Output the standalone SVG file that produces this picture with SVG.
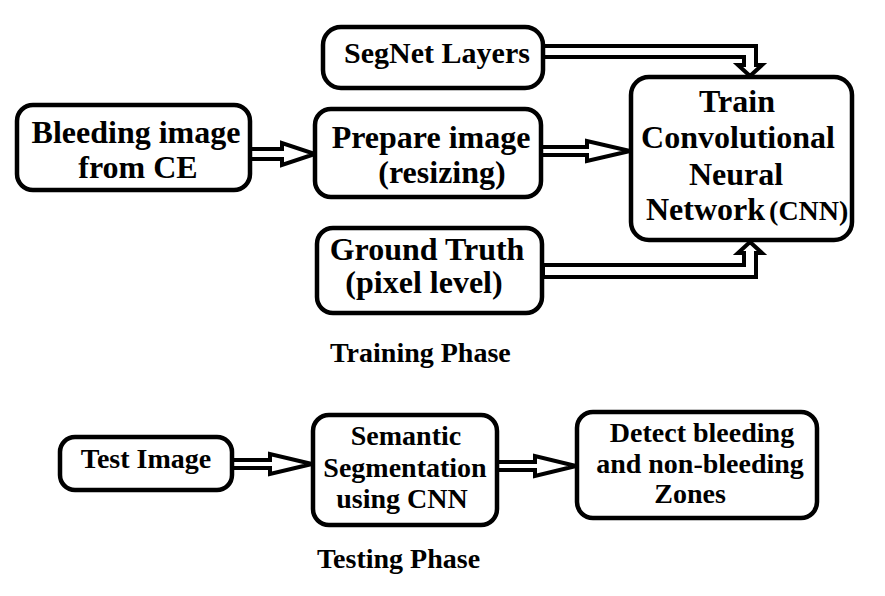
<svg xmlns="http://www.w3.org/2000/svg" width="885" height="596" viewBox="0 0 885 596">
<style>
.box{fill:#fff;stroke:#000;stroke-width:4.5}
.arr{fill:#fff;stroke:#000;stroke-width:4;stroke-linejoin:miter}
text{font-family:'Liberation Serif','Tinos','Times New Roman','Nimbus Roman','DejaVu Serif',serif;font-weight:700;fill:#000}
.t32{font-size:32px}
.t30{font-size:30px}
.t28{font-size:28px}
.m{text-anchor:middle}
</style>
<rect width="885" height="596" fill="#fff"/>
<g id="connectors">
<path class="arr" d="M250,149 H282 V143 L315,154 L282,165 V159 H250 Z"/>
<path class="arr" d="M541,147 H587 V141 L630,151 L587,161 V155 H541 Z"/>
<path class="arr" d="M543,46 H756 V65 H762 L750,76 L738,65 H744 V57 H543 Z"/>
<path class="arr" d="M543,265 H744 V253 H738 L750,242 L762,253 H756 V277 H543 Z"/>
<path class="arr" d="M232,460 H270 V454 L312,464 L270,474 V468 H232 Z"/>
<path class="arr" d="M497,462 H535 V456 L576,466 L535,476 V470 H497 Z"/>
</g>
<g id="segnet">
<rect class="box" x="323" y="27" width="220" height="61" rx="18"/>
<text class="t30 m" x="437" y="63">SegNet Layers</text>
</g>
<g id="bleeding">
<rect class="box" x="17" y="105" width="233" height="85" rx="16"/>
<text class="t32 m" x="136" y="143">Bleeding image</text>
<text class="t32 m" x="138" y="178">from CE</text>
</g>
<g id="prepare">
<rect class="box" x="315" y="109" width="226" height="88" rx="16"/>
<text class="t32 m" x="431" y="148">Prepare image</text>
<text class="t32 m" x="442" y="183">(resizing)</text>
</g>
<g id="ground">
<rect class="box" x="317" y="228" width="225" height="85" rx="16"/>
<text class="t32 m" x="427" y="260">Ground Truth</text>
<text class="t32 m" x="424" y="293">(pixel level)</text>
</g>
<g id="train">
<rect class="box" x="631" y="77" width="221" height="163" rx="18"/>
<text class="t32 m" x="737" y="112">Train</text>
<text class="t32 m" x="738" y="148">Convolutional</text>
<text class="t32 m" x="736" y="185">Neural</text>
<text class="t32" x="646" y="220">Network<tspan font-size="28" dx="4">(CNN)</tspan></text>
</g>
<text class="t28" x="330" y="362">Training Phase</text>
<g id="test">
<rect class="box" x="60" y="437" width="172" height="53" rx="15"/>
<text class="t28 m" x="146" y="468">Test Image</text>
</g>
<g id="semantic">
<rect class="box" x="313" y="415" width="184" height="110" rx="16"/>
<text class="t28 m" x="406" y="445">Semantic</text>
<text class="t28 m" x="405" y="477">Segmentation</text>
<text class="t28 m" x="402" y="508">using CNN</text>
</g>
<g id="detect">
<rect class="box" x="577" y="412" width="240" height="106" rx="16"/>
<text class="t28 m" x="702" y="442">Detect bleeding</text>
<text class="t28 m" x="700" y="473">and non-bleeding</text>
<text class="t28 m" x="690" y="503">Zones</text>
</g>
<text class="t28" x="317" y="568">Testing Phase</text>
</svg>
